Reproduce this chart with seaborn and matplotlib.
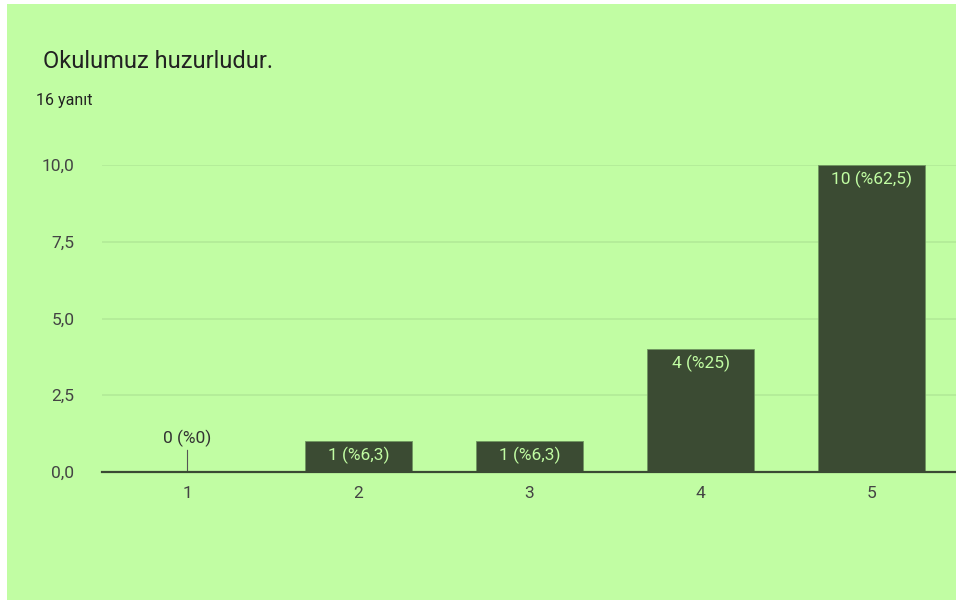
import matplotlib
matplotlib.use("Agg")
import matplotlib.pyplot as plt
import matplotlib.patches as mpatches
import pandas as pd
import seaborn as sns

# Survey answers (scale 1-5) and counts
CATEGORIES = ["1", "2", "3", "4", "5"]
COUNTS = [0, 1, 1, 4, 10]
PERCENT_LABELS = ["%0", "%6,3", "%6,3", "%25", "%62,5"]
Y_TICKS = [0.0, 2.5, 5.0, 7.5, 10.0]
Y_TICK_LABELS = ["0,0", "2,5", "5,0", "7,5", "10,0"]
TITLE = "Okulumuz huzurludur."
SUBTITLE = "16 yanıt"

BG = "#c1fda3"
BAR = "#3b4b33"
GRID = "#b3ec98"
TEXT = "#222222"
TICK = "#444444"

sns.set_theme(style="white")
plt.rcParams["font.family"] = ["Roboto", "DejaVu Sans"]

df = pd.DataFrame({"answer": CATEGORIES, "count": COUNTS})

fig = plt.figure(figsize=(9.56, 6.03), dpi=100, facecolor="white")
# green panel with a thin white margin at left/top/bottom
fig.patches.append(mpatches.Rectangle((7 / 956, 3 / 603), 1, 1 - 7 / 603,
                                      transform=fig.transFigure, facecolor=BG,
                                      edgecolor="none", zorder=-1))

ax = fig.add_axes([102 / 956, (603 - 472) / 603, 855 / 956, (472 - 165) / 603])
ax.set_facecolor(BG)

sns.barplot(data=df, x="answer", y="count", color=BAR, width=0.625,
            saturation=1, edgecolor="#6f9660", linewidth=0.6, ax=ax, zorder=3)

ax.set_ylim(0, 10)
ax.set_xlim(-0.5, len(CATEGORIES) - 0.5)
ax.set_yticks(Y_TICKS)
ax.set_yticklabels(Y_TICK_LABELS)
ax.grid(axis="y", color=GRID, linewidth=1.3, zorder=0)
ax.grid(axis="x", visible=False)
ax.set_axisbelow(True)
for side in ["top", "right", "left"]:
    ax.spines[side].set_visible(False)
ax.spines["bottom"].set_color("#3a4a33")
ax.spines["bottom"].set_linewidth(1.6)
ax.spines["bottom"].set_zorder(4)
ax.tick_params(axis="both", length=0, labelsize=12.5, labelcolor=TICK)
ax.tick_params(axis="x", pad=10)
ax.tick_params(axis="y", pad=20)
ax.set_xlabel("")
ax.set_ylabel("")

for i, (c, p) in enumerate(zip(COUNTS, PERCENT_LABELS)):
    label = f"{c} ({p})"
    if c == 0:
        ax.annotate(label, xy=(i, 0), xytext=(0, 18), textcoords="offset points",
                    ha="center", va="bottom", fontsize=12.5, color="#333333",
                    arrowprops=dict(arrowstyle="-", color="#555555", lw=0.8,
                                    shrinkA=0, shrinkB=0))
    else:
        ax.annotate(label, xy=(i, c), xytext=(0, -4), textcoords="offset points",
                    ha="center", va="top", fontsize=12.5, color=BG, zorder=5)

fig.text(43 / 956, 1 - 62 / 603, TITLE, fontsize=17, color=TEXT, va="center")
fig.text(36 / 956, 1 - 100 / 603, SUBTITLE, fontsize=11.5, color=TEXT, va="center")

fig.savefig("out.png", dpi=100, facecolor="white")
